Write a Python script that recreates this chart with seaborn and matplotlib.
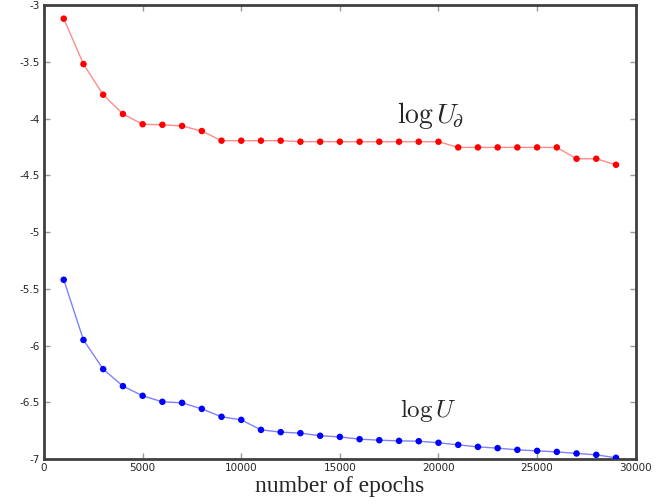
import numpy as np
import pandas as pd
import seaborn as sns
import matplotlib
matplotlib.use('Agg')
import matplotlib.pyplot as plt

# epochs and the two curves
epochs = list(range(1000, 30000, 1000))
log_u_boundary = [-3.12, -3.52, -3.79, -3.96, -4.05, -4.055, -4.065, -4.11, -4.195, -4.195,
                  -4.195, -4.195, -4.204, -4.204, -4.204, -4.204, -4.204, -4.204, -4.204, -4.204,
                  -4.254, -4.254, -4.254, -4.254, -4.254, -4.254, -4.354, -4.354, -4.407]
log_u = [-5.42, -5.95, -6.207, -6.357, -6.442, -6.495, -6.504, -6.557, -6.627, -6.654,
         -6.742, -6.762, -6.771, -6.794, -6.804, -6.824, -6.833, -6.839, -6.842, -6.856,
         -6.874, -6.892, -6.903, -6.918, -6.927, -6.936, -6.95, -6.962, -6.988]

df = pd.DataFrame({'epochs': epochs, 'boundary': log_u_boundary, 'interior': log_u})

sns.set_style('white')
plt.rcParams['font.family'] = ['DejaVu Sans']
plt.rcParams['mathtext.fontset'] = 'cm'

fig = plt.figure(figsize=(6.72, 5.04), dpi=100)
ax = fig.add_axes([0.0655, 0.089, 0.8805, 0.901])

# thin light lines with solid markers on top
sns.lineplot(data=df, x='epochs', y='boundary', ax=ax, color='#ff8c8c', lw=1)
sns.scatterplot(data=df, x='epochs', y='boundary', ax=ax, color='#ff0000',
                s=22, edgecolor='none', zorder=3)
sns.lineplot(data=df, x='epochs', y='interior', ax=ax, color='#8080ff', lw=1)
sns.scatterplot(data=df, x='epochs', y='interior', ax=ax, color='#0000ff',
                s=22, edgecolor='none', zorder=3)

ax.set_xlim(0, 30000)
ax.set_ylim(-7, -3)
ax.set_xticks(range(0, 30001, 5000))
ax.set_yticks(np.arange(-7, -2.9, 0.5))
ax.set_xticklabels([str(t) for t in range(0, 30001, 5000)])
ax.set_yticklabels(['-7', '-6.5', '-6', '-5.5', '-5', '-4.5', '-4', '-3.5', '-3'])

for s in ax.spines.values():
    s.set_visible(True)
    s.set_color('#404040')
    s.set_linewidth(2)

ax.tick_params(direction='in', length=4, width=1, color='#999999', labelsize=7.5,
               top=True, right=True, bottom=True, left=True, pad=3)

ax.set_ylabel('')
ax.set_xlabel('number of epochs', fontsize=17, family='Liberation Serif', labelpad=2)

ax.text(19600, -3.97, r'$\log U_{\!\partial}$', fontsize=20, ha='center', va='center')
ax.text(19500, -6.57, r'$\log U$', fontsize=18, ha='center', va='center')

fig.savefig('out.png', dpi=100)
